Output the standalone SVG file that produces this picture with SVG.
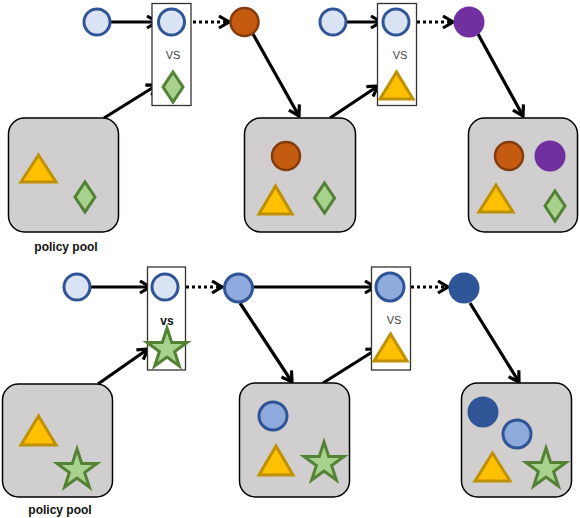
<svg xmlns="http://www.w3.org/2000/svg" width="580" height="518" viewBox="0 0 580 518">
<style>
.lc{fill:#DAE3F3;stroke:#2F5597;stroke-width:3}
.mc{fill:#8FAADC;stroke:#2F5597;stroke-width:3}
.dc{fill:#2F5597}
.oc{fill:#C55A11;stroke:#843C0C;stroke-width:2.5}
.pc{fill:#7030A0}
.tri{fill:#FFC000;stroke:#BF9000;stroke-width:3;stroke-linejoin:miter}
.dia{fill:#A9D18E;stroke:#538135;stroke-width:3}
.star{fill:#A9D18E;stroke:#548235;stroke-width:3}
.pool{fill:#D0CECE;stroke:#000;stroke-width:1.5}
.box{fill:#fff;stroke:#333;stroke-width:1.3}
.ar{stroke:#000;stroke-width:3.2;fill:none;marker-end:url(#ah)}
.dt{stroke:#000;stroke-width:3.2;fill:none;stroke-dasharray:3,3;marker-end:url(#ah)}
.vs{font-family:'Liberation Sans',Arial,sans-serif;font-size:11px;fill:#404040;text-anchor:middle}
.vsb{font-family:'Liberation Sans',Arial,sans-serif;font-size:12px;font-weight:bold;fill:#111;text-anchor:middle}
.lbl{font-family:'Liberation Sans',Arial,sans-serif;font-size:12px;font-weight:bold;fill:#111;text-anchor:middle}
</style>
<defs>
<marker id="ah" markerUnits="userSpaceOnUse" markerWidth="15" markerHeight="15" viewBox="0 0 15 15" refX="13" refY="7.5" orient="auto">
<path d="M3,1.5 L13,7.5 L3,13.5" fill="none" stroke="#000" stroke-width="3.2"/>
</marker>
<polygon id="starShape" points="0,-21 4.7,-6.47 19.97,-6.49 7.61,2.47 12.34,16.99 0,8 -12.34,16.99 -7.61,2.47 -19.97,-6.49 -4.7,-6.47"/>
</defs>

<g id="connectors">
<line class="ar" x1="111" y1="22" x2="157" y2="22"/>
<line class="dt" x1="187" y1="22" x2="229" y2="22"/>
<line class="ar" x1="253" y1="34" x2="299" y2="116"/>
<line class="ar" x1="104" y1="118" x2="157" y2="85"/>
<line class="ar" x1="347" y1="22" x2="381" y2="22"/>
<line class="dt" x1="411" y1="22" x2="453" y2="22"/>
<line class="ar" x1="478" y1="34" x2="523" y2="116"/>
<line class="ar" x1="330" y1="118" x2="378" y2="86"/>

<line class="ar" x1="91" y1="287" x2="150" y2="287"/>
<line class="dt" x1="180" y1="287" x2="222" y2="287"/>
<line class="ar" x1="253" y1="287" x2="375" y2="287"/>
<line class="ar" x1="240" y1="303" x2="292" y2="382"/>
<line class="ar" x1="98" y1="384" x2="148" y2="349"/>
<line class="ar" x1="323" y1="383" x2="377" y2="349"/>
<line class="dt" x1="405" y1="287" x2="448" y2="287"/>
<line class="ar" x1="470" y1="303" x2="519" y2="382"/>
</g>

<g id="n-start1"><circle class="lc" cx="97" cy="22" r="13"/></g>
<g id="n-vs1">
<rect class="box" x="152" y="3.5" width="39" height="102"/>
<circle class="lc" cx="171.5" cy="22" r="13"/>
<text class="vs" x="173" y="59">VS</text>
<path class="dia" d="M173,72 L183,87 L173,102 L163,87 Z"/>
</g>
<g id="n-orange1"><circle class="oc" cx="244.5" cy="22" r="14"/></g>
<g id="n-pool1">
<rect class="pool" x="8.5" y="118" width="110" height="114" rx="16"/>
<polygon class="tri" points="38.5,155 21,182 56,182"/>
<path class="dia" d="M85,182 L95,197 L85,212 L75,197 Z"/>
</g>
<text class="lbl" x="66" y="251">policy pool</text>
<g id="n-pool2">
<rect class="pool" x="244.5" y="118" width="111" height="114" rx="16"/>
<circle class="oc" cx="286" cy="156" r="14"/>
<polygon class="tri" points="275.5,186 259,214 292,214"/>
<path class="dia" d="M324.5,183 L334.5,198 L324.5,213 L314.5,198 Z"/>
</g>
<g id="n-start2"><circle class="lc" cx="333" cy="22" r="13"/></g>
<g id="n-vs2">
<rect class="box" x="377.5" y="3.5" width="39" height="102"/>
<circle class="lc" cx="396" cy="22" r="13"/>
<text class="vs" x="400" y="59">VS</text>
<polygon class="tri" points="396.5,72 380,99 413,99"/>
</g>
<g id="n-purple"><circle class="pc" cx="469" cy="22" r="15.5"/></g>
<g id="n-pool3">
<rect class="pool" x="468.5" y="118" width="109" height="114" rx="16"/>
<circle class="oc" cx="509" cy="156" r="14"/>
<circle class="pc" cx="550" cy="156" r="15.5"/>
<polygon class="tri" points="496,185 479,212 513,212"/>
<path class="dia" d="M555,191 L565,206 L555,221 L545,206 Z"/>
</g>

<g id="n-start3"><circle class="lc" cx="77" cy="287" r="13"/></g>
<g id="n-vs3">
<rect class="box" x="147.5" y="267" width="38" height="103"/>
<circle class="lc" cx="165" cy="287" r="13"/>
<text class="vsb" x="167" y="325">vs</text>
<use href="#starShape" class="star" x="167" y="349"/>
</g>
<g id="n-mid1"><circle class="mc" cx="238.5" cy="288" r="14"/></g>
<g id="n-pool4">
<rect class="pool" x="2.5" y="384" width="110" height="113" rx="16"/>
<polygon class="tri" points="38.5,416 21,445 56,445"/>
<use href="#starShape" class="star" x="77" y="470"/>
</g>
<text class="lbl" x="60" y="514">policy pool</text>
<g id="n-pool5">
<rect class="pool" x="239.5" y="383" width="110" height="114" rx="16"/>
<circle class="mc" cx="273" cy="416" r="14"/>
<polygon class="tri" points="276,446 259,475 293,475"/>
<use href="#starShape" class="star" x="324" y="463"/>
</g>
<g id="n-vs4">
<rect class="box" x="371.5" y="267" width="39" height="103"/>
<circle class="mc" cx="390" cy="287" r="14"/>
<text class="vs" x="394" y="324">VS</text>
<polygon class="tri" points="390.5,334 374,361 407,361"/>
</g>
<g id="n-dark"><circle class="dc" cx="464" cy="288" r="15.5"/></g>
<g id="n-pool6">
<rect class="pool" x="461.5" y="383" width="110" height="114" rx="16"/>
<circle class="dc" cx="483" cy="412" r="15.5"/>
<circle class="mc" cx="517" cy="434" r="14"/>
<polygon class="tri" points="492.5,453 475,481 510,481"/>
<use href="#starShape" class="star" x="546" y="469"/>
</g>
</svg>
